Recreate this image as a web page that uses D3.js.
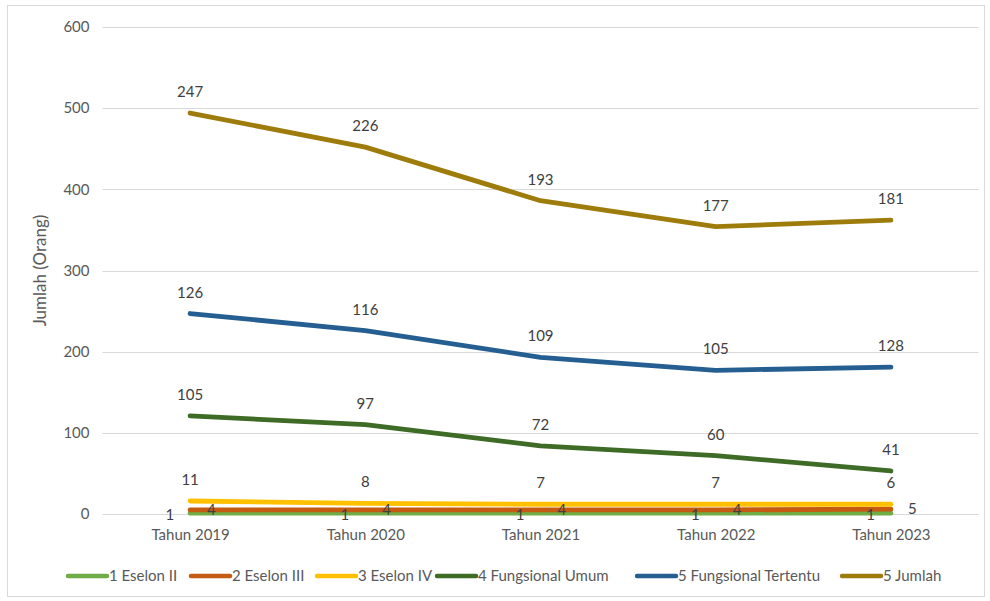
<!DOCTYPE html>
<html>
<head>
<meta charset="utf-8">
<script src="https://cdn.jsdelivr.net/npm/d3@7"></script>
<style>
  html, body { margin: 0; padding: 0; background: #fff; }
  svg { display: block; font-family: Lato, "Open Sans", sans-serif; }
</style>
</head>
<body>
<svg id="chart" width="990" height="601"></svg>
<script>
const categories = ["Tahun 2019", "Tahun 2020", "Tahun 2021", "Tahun 2022", "Tahun 2023"];
const seriesNames = ["1 Eselon II", "2 Eselon III", "3 Eselon IV", "4 Fungsional Umum", "5 Fungsional Tertentu", "5 Jumlah"];
const eselonII = [1, 1, 1, 1, 1];
const eselonIII = [4, 4, 4, 4, 5];
const eselonIV = [11, 8, 7, 7, 6];
const fungsionalUmum = [105, 97, 72, 60, 41];
const fungsionalTertentu = [126, 116, 109, 105, 128];
const jumlah = [247, 226, 193, 177, 181];
const yTicks = [0, 100, 200, 300, 400, 500, 600];
const colors = ["#70AD47", "#C55A11", "#FFC000", "#3E6B26", "#255E91", "#9E7C0C"];
const labelPos = ["left", "right", "above", "above", "above", "above"];

const seriesValues = [eselonII, eselonIII, eselonIV, fungsionalUmum, fungsionalTertentu, jumlah];
const rows = categories.map((c, i) => {
  const r = { cat: c };
  seriesNames.forEach((s, j) => r[s] = seriesValues[j][i]);
  return r;
});
const stacked = d3.stack().keys(seriesNames)(rows);

const svg = d3.select("#chart");
const margin = { left: 102.5, right: 11.5, top: 27, bottom: 87 };
const W = 990, H = 601;
const FONT = 15;

svg.append("rect").attr("x", 7.5).attr("y", 5.5).attr("width", 977).attr("height", 591)
  .attr("fill", "#fff").attr("stroke", "#d9d9d9").attr("stroke-width", 1);

const x = d3.scalePoint().domain(categories).range([margin.left, W - margin.right]).padding(0.5);
const y = d3.scaleLinear().domain([0, 600]).range([H - margin.bottom, margin.top]);

// gridlines
svg.append("g").selectAll("line").data(yTicks).join("line")
  .attr("x1", margin.left).attr("x2", W - margin.right)
  .attr("y1", d => Math.round(y(d)) + 0.5).attr("y2", d => Math.round(y(d)) + 0.5)
  .attr("stroke", "#d9d9d9").attr("stroke-width", 1);

// y axis labels
const yAxis = svg.append("g").attr("transform", `translate(${margin.left},0)`)
  .call(d3.axisLeft(y).tickValues(yTicks).tickSize(0).tickPadding(13));
yAxis.select(".domain").remove();
yAxis.selectAll("text").attr("fill", "#595959").style("font-size", FONT + "px").style("font-family", "Lato, sans-serif");

// x axis labels
const xAxis = svg.append("g").attr("transform", `translate(0,${y(0)})`)
  .call(d3.axisBottom(x).tickSize(0).tickPadding(15));
xAxis.select(".domain").remove();
xAxis.selectAll("text").attr("fill", "#595959").style("font-size", FONT + "px").style("font-family", "Lato, sans-serif");

// y title
svg.append("text").attr("transform", `translate(46,${(y(0) + y(600)) / 2}) rotate(-90)`)
  .attr("text-anchor", "middle").attr("fill", "#595959").style("font-size", "17px")
  .text("Jumlah (Orang)");

// lines
const line = d3.line().x(d => x(d.data.cat)).y(d => y(d[1]));
svg.append("g").selectAll("path").data(stacked).join("path")
  .attr("d", d => line(d))
  .attr("fill", "none")
  .attr("stroke", (d, i) => colors[i])
  .attr("stroke-width", 4.8)
  .attr("stroke-linecap", "round")
  .attr("stroke-linejoin", "round");

// data labels
const lg = svg.append("g");
stacked.forEach((s, i) => {
  s.forEach((d, k) => {
    const px = x(d.data.cat), py = y(d[1]);
    const val = seriesValues[i][k];
    const t = lg.append("text").attr("fill", "#404040").style("font-size", FONT + "px").text(val);
    if (labelPos[i] === "above") {
      t.attr("x", px).attr("y", py - 16).attr("text-anchor", "middle");
    } else if (labelPos[i] === "left") {
      t.attr("x", px - 16).attr("y", py + 7).attr("text-anchor", "end");
    } else {
      t.attr("x", px + 17).attr("y", py + 5).attr("text-anchor", "start");
    }
  });
});

// legend
const legendItems = [
  { x: 68 }, { x: 191 }, { x: 317 }, { x: 437 }, { x: 637 }, { x: 842 }
];
const leg = svg.append("g");
seriesNames.forEach((s, i) => {
  const lx = legendItems[i].x, ly = 576;
  leg.append("line").attr("x1", lx).attr("x2", lx + 39).attr("y1", ly).attr("y2", ly)
    .attr("stroke", colors[i]).attr("stroke-width", 4.5).attr("stroke-linecap", "round");
  leg.append("text").attr("x", lx + 41).attr("y", ly + 5).attr("fill", "#595959")
    .style("font-size", "15px").text(s);
});
</script>
</body>
</html>
